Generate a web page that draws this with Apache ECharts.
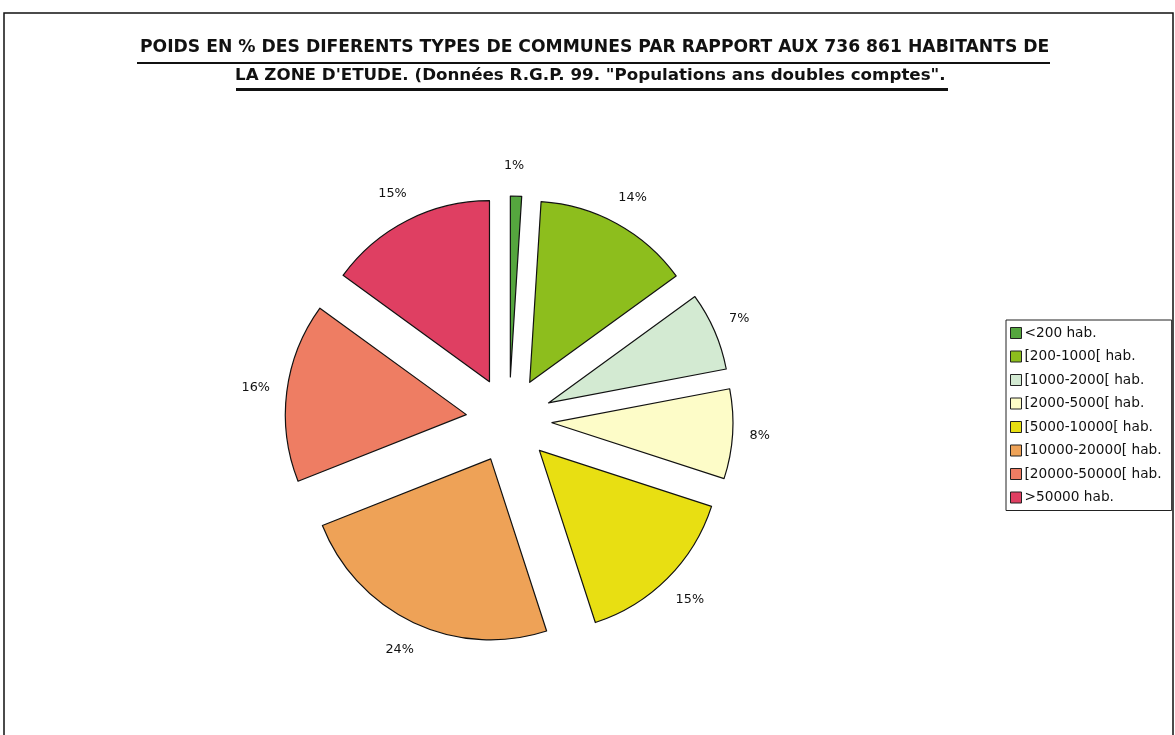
<!DOCTYPE html>
<html>
<head>
<meta charset="utf-8">
<script src="https://cdn.jsdelivr.net/npm/echarts@6/dist/echarts.min.js"></script>
<style>
html,body{margin:0;padding:0;background:#fff;}
#chart{width:1175px;height:735px;}
</style>
</head>
<body>
<div id="chart"></div>
<script>
const categories = ['<200 hab.', '[200-1000[ hab.', '[1000-2000[ hab.', '[2000-5000[ hab.', '[5000-10000[ hab.', '[10000-20000[ hab.', '[20000-50000[ hab.', '>50000 hab.'];
const values = [1, 14, 7, 8, 15, 24, 16, 15];
const colors = ['#55a63e', '#8dbe1d', '#d3ead2', '#fdfcc8', '#e8df12', '#eea257', '#ee7d63', '#df3f62'];
const titleLine1 = 'POIDS EN % DES DIFERENTS TYPES DE COMMUNES PAR RAPPORT AUX 736 861 HABITANTS DE';
const titleLine2 = 'LA ZONE D\'ETUDE. (Données R.G.P. 99. "Populations ans doubles comptes".';

const chart = echarts.init(document.getElementById('chart'));
const font = '"DejaVu Sans", Verdana, sans-serif';

const data = categories.map((c, i) => ({
  name: c,
  value: values[i],
  selected: true,
  itemStyle: { color: colors[i] }
}));

chart.setOption({
  backgroundColor: '#fff',
  animation: false,
  title: [
    { text: titleLine1, left: 140, top: 39.5, padding: 0, textStyle: { fontFamily: font, fontSize: 17.2, fontWeight: 'bold', color: '#111' } },
    { text: titleLine2, left: 235, top: 67.5, padding: 0, textStyle: { fontFamily: font, fontSize: 16.7, fontWeight: 'bold', color: '#111' } }
  ],
  legend: {
    orient: 'vertical',
    left: 1006,
    top: 320,
    padding: [6, 10, 6, 4],
    itemGap: 9.5,
    itemWidth: 11,
    itemHeight: 11,
    borderColor: '#222',
    borderWidth: 1,
    selectedMode: false,
    icon: 'rect',
    itemStyle: { borderColor: '#222', borderWidth: 1 },
    textStyle: { fontFamily: font, fontSize: 13.7, color: '#111', padding: [0, 0, 0, -2] },
    data: categories
  },
  graphic: [
    { type: 'rect', shape: { x: 4, y: 13, width: 1169, height: 740 }, style: { fill: 'none', stroke: '#111', lineWidth: 1.5 }, silent: true },
    { type: 'rect', shape: { x: 137, y: 62, width: 913, height: 2 }, style: { fill: '#111' }, silent: true },
    { type: 'rect', shape: { x: 236, y: 88, width: 712, height: 3 }, style: { fill: '#111' }, silent: true }
  ],
  series: [{
    type: 'pie',
    center: [509, 420],
    radius: [0, 181],
    startAngle: 90,
    clockwise: true,
    selectedMode: 'multiple',
    selectedOffset: 43,
    avoidLabelOverlap: false,
    itemStyle: { borderColor: '#111', borderWidth: 1.2 },
    emphasis: { disabled: true },
    select: { disabled: false, itemStyle: { borderColor: '#111', borderWidth: 1.2 } },
    label: {
      show: true,
      position: 'outside',
      formatter: '{c}%',
      fontFamily: font,
      fontSize: 12.8,
      color: '#111',
      distanceToLabelLine: -13
    },
    labelLine: { show: false, length: 30, length2: 0 },
    data: data
  }]
});
</script>
</body>
</html>
